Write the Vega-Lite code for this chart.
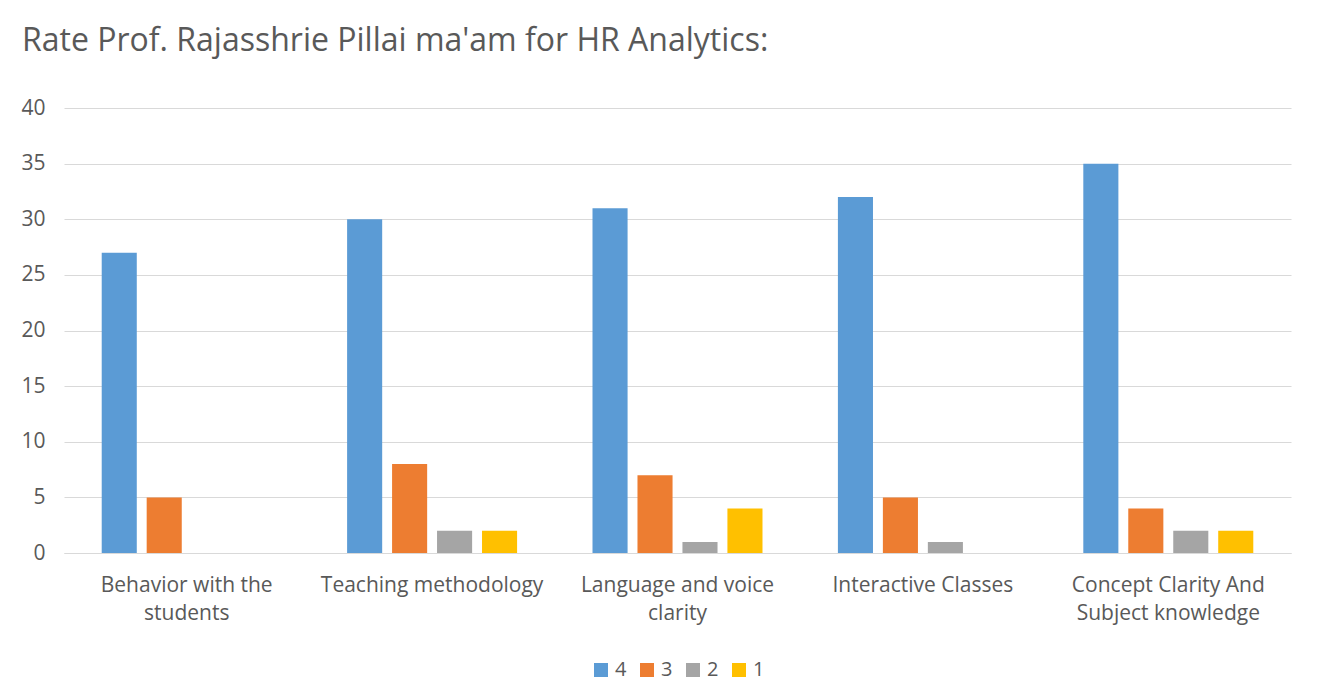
{
  "$schema": "https://vega.github.io/schema/vega-lite/v6.json",
  "width": 1227,
  "height": 445,
  "autosize": {"type": "none"},
  "padding": {"left": 64, "top": 108, "right": 44, "bottom": 147},
  "background": "white",
  "title": {
    "text": "Rate Prof. Rajasshrie Pillai ma'am for HR Analytics:",
    "anchor": "start",
    "frame": "group",
    "dx": -42,
    "offset": 14,
    "baseline": "alphabetic",
    "fontSize": 32,
    "font": "Open Sans",
    "fontWeight": "normal",
    "color": "#595959"
  },
  "data": {
    "values": [
      {"aspect": "Behavior with the students", "rating": "4", "count": 27},
      {"aspect": "Behavior with the students", "rating": "3", "count": 5},
      {"aspect": "Behavior with the students", "rating": "2", "count": 0},
      {"aspect": "Behavior with the students", "rating": "1", "count": 0},
      {"aspect": "Teaching methodology", "rating": "4", "count": 30},
      {"aspect": "Teaching methodology", "rating": "3", "count": 8},
      {"aspect": "Teaching methodology", "rating": "2", "count": 2},
      {"aspect": "Teaching methodology", "rating": "1", "count": 2},
      {"aspect": "Language and voice clarity", "rating": "4", "count": 31},
      {"aspect": "Language and voice clarity", "rating": "3", "count": 7},
      {"aspect": "Language and voice clarity", "rating": "2", "count": 1},
      {"aspect": "Language and voice clarity", "rating": "1", "count": 4},
      {"aspect": "Interactive Classes", "rating": "4", "count": 32},
      {"aspect": "Interactive Classes", "rating": "3", "count": 5},
      {"aspect": "Interactive Classes", "rating": "2", "count": 1},
      {"aspect": "Interactive Classes", "rating": "1", "count": 0},
      {"aspect": "Concept Clarity And Subject knowledge", "rating": "4", "count": 35},
      {"aspect": "Concept Clarity And Subject knowledge", "rating": "3", "count": 4},
      {"aspect": "Concept Clarity And Subject knowledge", "rating": "2", "count": 2},
      {"aspect": "Concept Clarity And Subject knowledge", "rating": "1", "count": 2}
    ]
  },
  "mark": {"type": "bar"},
  "encoding": {
    "x": {
      "field": "aspect",
      "type": "nominal",
      "sort": null,
      "scale": {"paddingInner": 0.267, "paddingOuter": 0.1335},
      "axis": {
        "title": null,
        "labelAngle": 0,
        "ticks": false,
        "domain": true,
        "domainColor": "#d9d9d9",
        "labelPadding": 21,
        "labelFontSize": 21,
        "labelLineHeight": 28,
        "labelFont": "Open Sans",
        "labelColor": "#595959",
        "labelLimit": 400,
        "labelExpr": "datum.label == 'Behavior with the students' ? ['Behavior with the', 'students'] : datum.label == 'Language and voice clarity' ? ['Language and voice', 'clarity'] : datum.label == 'Concept Clarity And Subject knowledge' ? ['Concept Clarity And', 'Subject knowledge'] : datum.label"
      }
    },
    "xOffset": {
      "field": "rating",
      "type": "nominal",
      "sort": ["4", "3", "2", "1"],
      "scale": {"paddingInner": 0.22, "paddingOuter": 0.11}
    },
    "y": {
      "field": "count",
      "type": "quantitative",
      "scale": {"domain": [0, 40]},
      "axis": {
        "title": null,
        "values": [0, 5, 10, 15, 20, 25, 30, 35, 40],
        "grid": true,
        "gridColor": "#d9d9d9",
        "domain": false,
        "ticks": false,
        "labelPadding": 19,
        "labelFontSize": 21,
        "labelFont": "Open Sans",
        "labelColor": "#595959"
      }
    },
    "color": {
      "field": "rating",
      "type": "nominal",
      "sort": ["4", "3", "2", "1"],
      "scale": {"domain": ["4", "3", "2", "1"], "range": ["#5b9bd5", "#ed7d31", "#a5a5a5", "#ffc000"]},
      "legend": {
        "title": null,
        "orient": "none",
        "legendX": 527,
        "legendY": 552,
        "padding": 0,
        "direction": "horizontal",
        "symbolType": "square",
        "symbolSize": 196,
        "symbolStrokeWidth": 0,
        "labelFontSize": 20,
        "labelOffset": 4,
        "labelFont": "Open Sans",
        "labelColor": "#595959",
        "columnPadding": 10
      }
    }
  },
  "config": {
    "view": {"stroke": null}
  }
}
